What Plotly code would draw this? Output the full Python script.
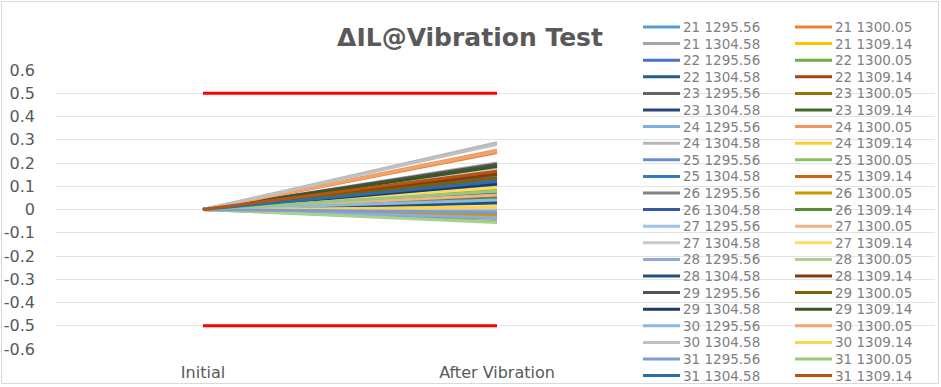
import plotly.graph_objects as go

# ---------------- data ----------------
categories = ["Initial", "After Vibration"]

series_names = [
    "21 1295.56", "21 1300.05", "21 1304.58", "21 1309.14",
    "22 1295.56", "22 1300.05", "22 1304.58", "22 1309.14",
    "23 1295.56", "23 1300.05", "23 1304.58", "23 1309.14",
    "24 1295.56", "24 1300.05", "24 1304.58", "24 1309.14",
    "25 1295.56", "25 1300.05", "25 1304.58", "25 1309.14",
    "26 1295.56", "26 1300.05", "26 1304.58", "26 1309.14",
    "27 1295.56", "27 1300.05", "27 1304.58", "27 1309.14",
    "28 1295.56", "28 1300.05", "28 1304.58", "28 1309.14",
    "29 1295.56", "29 1300.05", "29 1304.58", "29 1309.14",
    "30 1295.56", "30 1300.05", "30 1304.58", "30 1309.14",
    "31 1295.56", "31 1300.05", "31 1304.58", "31 1309.14",
]

initial_values = [
    0.0, 0.0, 0.0, 0.0, 0.0, 0.0, 0.0, 0.0, 0.0, 0.0, 0.0,
    0.0, 0.0, 0.0, 0.0, 0.0, 0.0, 0.0, 0.0, 0.0, 0.0, 0.0,
    0.0, 0.0, 0.0, 0.0, 0.0, 0.0, 0.0, 0.0, 0.0, 0.0, 0.0,
    0.0, 0.0, 0.0, 0.0, 0.0, 0.0, 0.0, 0.0, 0.0, 0.0, 0.0,
]

after_vibration_values = [
    0.105, 0.245, 0.200, 0.090,
    0.127, 0.081, 0.115, 0.052,
    0.170, 0.138, 0.031, 0.190,
    -0.009, 0.255, 0.287, 0.012,
    -0.019, -0.052, 0.148, 0.159,
    -0.038, -0.026, 0.070, 0.049,
    0.002, 0.062, 0.173, 0.095,
    -0.035, -0.056, 0.028, 0.152,
    0.195, 0.135, 0.110, 0.185,
    0.041, 0.250, 0.280, 0.009,
    -0.012, 0.078, 0.120, 0.165,
]

upper_limit = [0.5, 0.5]
lower_limit = [-0.5, -0.5]

y_ticks = [0.6, 0.5, 0.4, 0.3, 0.2, 0.1, 0, -0.1, -0.2, -0.3, -0.4, -0.5, -0.6]
y_tick_labels = ["0.6", "0.5", "0.4", "0.3", "0.2", "0.1", "0",
                 "-0.1", "-0.2", "-0.3", "-0.4", "-0.5", "-0.6"]

# ---------------- styles ----------------
series_colors = [
    "#5B9BD5", "#ED7D31", "#A5A5A5", "#FFC000", "#4472C4", "#70AD47",
    "#255E91", "#9E480E", "#636363", "#997300", "#264478", "#43682B",
    "#7CAFDD", "#F1975A", "#B7B7B7", "#FFCD33", "#698ED0", "#8CC168",
    "#327DC2", "#D26012", "#848484", "#CC9A00", "#335AA1", "#5A8A39",
    "#9DC3E6", "#F4B183", "#C9C9C9", "#FFD966", "#8FAADC", "#A9D18E",
    "#1F4E79", "#843C0C", "#525252", "#7F6000", "#203864", "#385723",
    "#8CB9E1", "#F2A46F", "#C0C0C0", "#FFD34D", "#7C9CD6", "#9AC97B",
    "#2B6DA9", "#B85410",
]

W, H = 941, 387
PLOT_L, PLOT_R, PLOT_T, PLOT_B = 56, 935, 70, 349
TEXT_GRAY = "#595959"
GRID = "#e3e3e3"

fig = go.Figure()

# limit lines
for lim in (upper_limit, lower_limit):
    fig.add_trace(go.Scatter(
        x=categories, y=lim, mode="lines",
        line=dict(color="#FF0000", width=3),
        showlegend=False, hoverinfo="skip", xaxis="x", yaxis="y",
    ))

# data series
for name, y0, y1, col in zip(series_names, initial_values,
                             after_vibration_values, series_colors):
    fig.add_trace(go.Scatter(
        x=categories, y=[y0, y1], mode="lines", name=name,
        line=dict(color=col, width=3),
        showlegend=False, xaxis="x", yaxis="y",
    ))

# custom two-column legend (Excel style, row-major)
LEG_COL_X = [643, 795]
LEG_ROW0 = 27
LEG_STEP = 16.6
LEG_SWATCH = 37
annotations = []
for i, (name, col) in enumerate(zip(series_names, series_colors)):
    r, c = divmod(i, 2)
    x0 = LEG_COL_X[c]
    yy = LEG_ROW0 + r * LEG_STEP
    fig.add_trace(go.Scatter(
        x=[x0, x0 + LEG_SWATCH], y=[yy, yy], mode="lines",
        line=dict(color=col, width=3),
        showlegend=False, hoverinfo="skip", xaxis="x2", yaxis="y2",
    ))
    annotations.append(dict(
        x=x0 + LEG_SWATCH + 1, y=yy, xref="x2", yref="y2",
        text=name, showarrow=False, xanchor="left", yanchor="middle",
        font=dict(family="DejaVu Sans", size=13.5, color="#808080"),
    ))

fig.update_layout(
    width=W, height=H,
    margin=dict(l=0, r=0, t=0, b=0, pad=0),
    paper_bgcolor="white", plot_bgcolor="rgba(0,0,0,0)",
    showlegend=False,
    title=dict(
        text="<b>ΔIL@Vibration Test</b>",
        x=470 / W, xanchor="center", y=1 - 37 / H, yanchor="middle",
        xref="paper", yref="paper",
        font=dict(family="DejaVu Sans", size=25, color=TEXT_GRAY),
    ),
    xaxis=dict(
        type="category", domain=[PLOT_L / W, PLOT_R / W],
        range=[-0.5, -0.5 + (PLOT_R - PLOT_L) / 294.0],
        showgrid=False, zeroline=False, showline=False, ticks="",
        tickfont=dict(family="DejaVu Sans", size=16, color=TEXT_GRAY),
        ticklabelstandoff=12, fixedrange=True, anchor="y", automargin=False,
    ),
    yaxis=dict(
        domain=[1 - PLOT_B / H, 1 - PLOT_T / H],
        range=[-0.6, 0.6], tickvals=y_ticks, ticktext=y_tick_labels,
        showgrid=True, gridcolor=GRID, gridwidth=1,
        zeroline=False, showline=False, ticks="",
        tickfont=dict(family="DejaVu Sans", size=16, color=TEXT_GRAY),
        ticklabelstandoff=20, fixedrange=True, anchor="x", automargin=False,
    ),
    xaxis2=dict(domain=[0, 1], range=[0, W], visible=False,
                fixedrange=True, anchor="y2", automargin=False),
    yaxis2=dict(domain=[0, 1], range=[H, 0], visible=False,
                fixedrange=True, anchor="x2", automargin=False),
    annotations=annotations,
    shapes=[dict(type="rect", xref="paper", yref="paper",
                 x0=1.5 / W, x1=938.5 / W, y0=1 - 383.5 / H, y1=1 - 1.5 / H,
                 line=dict(color="#d9d9d9", width=1), layer="below")],
)

fig.write_html(
    "out.html",
    config={"displayModeBar": False},
    post_script="document.body.style.margin='0';"
                "document.body.style.padding='0';"
                "document.documentElement.style.margin='0';",
)
